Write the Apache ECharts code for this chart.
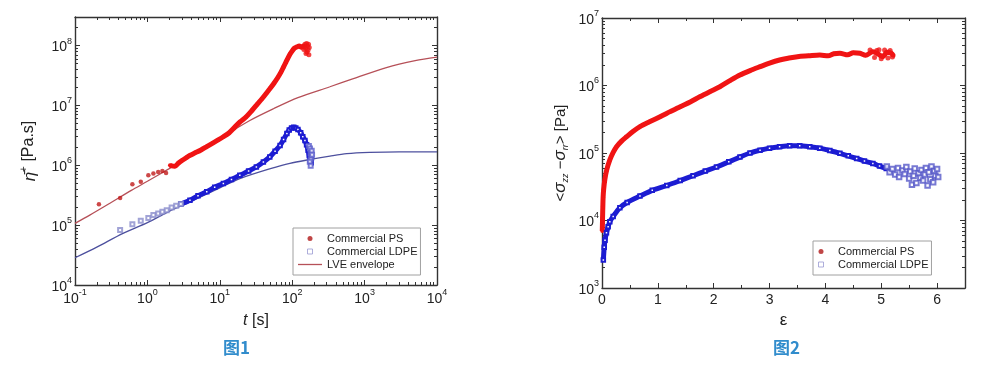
<!DOCTYPE html>
<html><head><meta charset="utf-8">
<script src="https://cdn.jsdelivr.net/npm/echarts@6/dist/echarts.min.js"></script>
<style>html,body{margin:0;padding:0;background:#fff}#c{width:1000px;height:372px}</style>
</head><body><div id="c"></div>
<script>
// ---------- Figure 1 data: t [s], eta [Pa.s] ----------
const ps1Sparse = [[0.214,2.24e5],[0.42,2.85e5],[0.62,4.8e5],[0.81,5.3e5],[1.03,6.8e5],[1.21,7.3e5],[1.41,7.7e5],[1.61,8.0e5],[1.81,7.4e5]];
const ps1Band = [[2.05,1.0e6],[2.4,9.6e5],[2.67,1.08e6],[3.0,1.2e6],[3.5,1.36e6],[3.9,1.47e6],[4.5,1.6e6],[5.5,1.8e6],[6.6,2.05e6],[8.0,2.35e6],[9.5,2.65e6],[11.2,3.0e6],[13.5,3.5e6],[16,4.3e6],[19,5.3e6],[23,6.4e6],[28,8.3e6],[33,1.05e7],[38,1.28e7],[44,1.6e7],[50,1.95e7],[56,2.35e7],[63,2.9e7],[70,3.6e7],[76,4.4e7],[82,5.3e7],[88,6.3e7],[94,7.3e7],[101,8.3e7],[108,9.1e7],[116,9.5e7],[125,9.8e7],[134,9.4e7],[142,1.0e8]];
const ps1Noise = [[145,8.6e7],[147,9.6e7],[150,1.05e8],[153,9.0e7],[155,7.4e7],[158,1.08e8],[160,7.8e7],[163,9.8e7],[166,8.4e7],[168,1.05e8],[170,7.0e7],[172,9.3e7]];
const ldpe1Sparse = [[0.42,8.3e4],[0.62,1.03e5],[0.81,1.18e5],[1.03,1.32e5],[1.21,1.47e5],[1.41,1.57e5],[1.61,1.67e5],[1.85,1.78e5],[2.16,1.97e5],[2.5,2.1e5],[2.9,2.25e5]];
const ldpe1Band = [[2.9,2.25e5],[3.87,2.6e5],[5,3.1e5],[6.6,3.6e5],[8.5,4.3e5],[11.2,4.95e5],[14.5,5.8e5],[18.9,6.8e5],[25,8.0e5],[32,9.4e5],[40,1.13e6],[49,1.38e6],[58,1.72e6],[68,2.15e6],[76,2.7e6],[84.5,3.4e6],[91,3.9e6],[98,4.2e6],[105,4.3e6],[112,4.2e6],[120,3.95e6],[131,3.5e6],[140,3.0e6],[150,2.6e6],[158,2.2e6],[166,1.78e6],[172,1.45e6],[178,1.21e6],[183,1.1e6]];
const ldpe1Noise = [[170,2.1e6],[176,1.9e6],[180,1.6e6],[184,1.35e6],[186,1.75e6],[181,1.25e6],[188,1.5e6],[175,1.15e6],[180,9.8e5]];
const lve1Red = [[0.1,1.07e5],[0.16,1.47e5],[0.3,2.3e5],[0.6,3.8e5],[1,5.4e5],[2,8.8e5],[4,1.45e6],[10,2.8e6],[26,5.6e6],[55,8.8e6],[120,1.35e7],[332,2.05e7],[700,2.8e7],[2000,4.3e7],[5000,5.6e7],[10000,6.4e7]];
const lve1Blue = [[0.1,2.85e4],[0.2,4.3e4],[0.46,7.3e4],[1,1.1e5],[2,1.7e5],[3.87,2.45e5],[10,4.2e5],[18.9,6.0e5],[50,8.8e5],[93,1.08e6],[178,1.25e6],[332,1.42e6],[566,1.56e6],[1170,1.64e6],[3000,1.68e6],[10000,1.68e6]];

// ---------- Figure 2 data: strain, stress difference [Pa] ----------
const ps2Band = [[0.005,7e3],[0.01,1.1e4],[0.015,1.6e4],[0.02,2.2e4],[0.03,2.9e4],[0.05,4.0e4],[0.084,5.6e4],[0.14,7.9e4],[0.2,1.02e5],[0.26,1.24e5],[0.35,1.5e5],[0.44,1.74e5],[0.56,2.1e5],[0.68,2.46e5],[0.85,2.9e5],[1.04,3.45e5],[1.22,4.1e5],[1.40,4.86e5],[1.58,5.7e5],[1.75,6.8e5],[1.93,8.1e5],[2.11,9.6e5],[2.29,1.18e6],[2.47,1.43e6],[2.65,1.66e6],[2.83,1.9e6],[3.0,2.15e6],[3.18,2.39e6],[3.35,2.55e6],[3.5,2.67e6],[3.7,2.75e6],[3.9,2.83e6],[4.05,2.75e6],[4.15,2.95e6],[4.26,3.0e6],[4.4,2.85e6],[4.5,3.05e6],[4.62,3.0e6],[4.72,2.8e6],[4.85,3.16e6],[4.95,2.9e6],[5.03,2.67e6],[5.1,3.1e6],[5.18,3.0e6],[5.22,2.75e6]];
const ps2Noise = [[4.8,3.35e6],[4.88,2.6e6],[4.92,3.3e6],[5.0,2.5e6],[5.06,3.35e6],[5.12,2.55e6],[5.16,3.3e6],[5.2,2.65e6],[4.96,3.4e6]];
const ldpe2Band = [[0.024,2.6e3],[0.04,4.0e3],[0.054,5.1e3],[0.08,6.6e3],[0.11,8.1e3],[0.14,9.6e3],[0.2,1.15e4],[0.32,1.55e4],[0.45,1.85e4],[0.68,2.3e4],[0.9,2.8e4],[1.16,3.3e4],[1.4,3.9e4],[1.63,4.6e4],[1.85,5.4e4],[2.05,6.2e4],[2.27,7.4e4],[2.47,8.7e4],[2.65,1.0e5],[2.83,1.1e5],[3.0,1.18e5],[3.18,1.24e5],[3.36,1.28e5],[3.54,1.28e5],[3.72,1.24e5],[3.9,1.18e5],[4.08,1.09e5],[4.26,9.9e4],[4.41,9.1e4],[4.56,8.3e4],[4.7,7.6e4],[4.85,7.0e4],[4.97,6.4e4],[5.09,5.9e4]];
const ldpe2Scatter = [[5.1,6.3e4],[5.15,5.2e4],[5.2,5.8e4],[5.25,4.8e4],[5.3,6.0e4],[5.32,4.4e4],[5.38,5.5e4],[5.42,4.9e4],[5.45,6.2e4],[5.5,4.2e4],[5.52,5.3e4],[5.55,3.4e4],[5.58,4.6e4],[5.6,5.9e4],[5.63,3.6e4],[5.67,5.0e4],[5.7,4.3e4],[5.72,5.6e4],[5.75,3.9e4],[5.78,4.8e4],[5.8,6.0e4],[5.83,3.3e4],[5.85,5.2e4],[5.88,4.1e4],[5.9,6.3e4],[5.93,3.7e4],[5.95,5.4e4],[5.97,4.6e4],[6.0,5.8e4],[6.02,4.4e4]];

// ---------- Tick labels ----------
const x1Major = [0.1,1,10,100,1000,10000];
const y1Major = [1e4,1e5,1e6,1e7,1e8];
const x2Major = [0,1,2,3,4,5,6];
const x2Minor = [0.5,1.5,2.5,3.5,4.5,5.5];
const y2Major = [1e3,1e4,1e5,1e6,1e7];
const captions = ['图1','图2'];

function logMinor(a,b,extra){const o=[];for(let k=a;k<b;k++)for(let m=2;m<=9;m++)o.push(+(m*Math.pow(10,k)).toPrecision(3));return o.concat(extra||[]);}
const x1Minor = logMinor(-1,4);
const y1Minor = logMinor(4,8,[2e8,3e8]);
const y2Minor = logMinor(3,7);

const FONT = '"Liberation Sans", Arial, sans-serif';
const AX = {color:'#333', width:1.4};
const powRich = {b:{fontSize:14,lineHeight:18,verticalAlign:'bottom',fontFamily:FONT,color:'#222'},
                 s:{fontSize:9,lineHeight:9,verticalAlign:'top',fontFamily:FONT,color:'#222'}};
const powFmt = v => '{b|10}{s|' + Math.round(Math.log10(v)) + '}';

function ax(o){
  const a = {
    type:o.type, gridIndex:o.grid, position:o.pos, min:o.min, max:o.max,
    axisLine:{show:o.major, onZero:false, lineStyle:AX},
    axisTick:{show:true, inside:true, length:o.major?5:3, customValues:o.ticks, lineStyle:{color:'#333',width:1}},
    axisLabel:{show:false},
    splitLine:{show:false}
  };
  if (o.type==='log') a.logBase = 10;
  if (o.labels) a.axisLabel = Object.assign({show:true, customValues:o.ticks}, o.labels);
  if (o.name) Object.assign(a, o.name);
  return a;
}

const xAxis = [
  ax({type:'log',grid:0,pos:'bottom',min:0.1,max:1e4,major:true,ticks:x1Major,
      labels:{margin:3,formatter:powFmt,rich:powRich},
      name:{name:'{i|t} [s]',nameLocation:'middle',nameGap:28,nameTextStyle:{fontSize:16,fontFamily:FONT,color:'#222',rich:{i:{fontStyle:'italic',fontSize:16,fontFamily:FONT,color:'#222'}}}}}),
  ax({type:'log',grid:0,pos:'bottom',min:0.1,max:1e4,major:false,ticks:x1Minor}),
  ax({type:'log',grid:0,pos:'top',min:0.1,max:1e4,major:true,ticks:x1Major}),
  ax({type:'log',grid:0,pos:'top',min:0.1,max:1e4,major:false,ticks:x1Minor}),
  ax({type:'value',grid:1,pos:'bottom',min:0,max:6.5,major:true,ticks:x2Major,
      labels:{margin:5,fontSize:14,fontFamily:FONT,color:'#222'},
      name:{name:'ε',nameLocation:'middle',nameGap:24,nameTextStyle:{fontSize:17,fontFamily:FONT,color:'#222'}}}),
  ax({type:'value',grid:1,pos:'bottom',min:0,max:6.5,major:false,ticks:x2Minor}),
  ax({type:'value',grid:1,pos:'top',min:0,max:6.5,major:true,ticks:x2Major}),
  ax({type:'value',grid:1,pos:'top',min:0,max:6.5,major:false,ticks:x2Minor})
];
const yAxis = [
  ax({type:'log',grid:0,pos:'left',min:1e4,max:3e8,major:true,ticks:y1Major,
      labels:{margin:3,formatter:powFmt,rich:powRich},
      name:{name:'{i|η̄}{s|+} [Pa.s]',nameLocation:'middle',nameGap:36,nameRotate:90,
            nameTextStyle:{fontSize:16,fontFamily:FONT,color:'#222',rich:{i:{fontStyle:'italic',fontSize:17,fontFamily:FONT,color:'#222',lineHeight:20,verticalAlign:'bottom'},s:{fontSize:10,lineHeight:10,verticalAlign:'top',fontFamily:FONT,color:'#222'}}}}}),
  ax({type:'log',grid:0,pos:'left',min:1e4,max:3e8,major:false,ticks:y1Minor}),
  ax({type:'log',grid:0,pos:'right',min:1e4,max:3e8,major:true,ticks:y1Major}),
  ax({type:'log',grid:0,pos:'right',min:1e4,max:3e8,major:false,ticks:y1Minor}),
  ax({type:'log',grid:1,pos:'left',min:1e3,max:1e7,major:true,ticks:y2Major,
      labels:{margin:3,formatter:powFmt,rich:powRich},
      name:{name:'<{i|σ}{sub|zz} −{i|σ}{sub|rr}> [Pa]',nameLocation:'middle',nameGap:32,nameRotate:90,
            nameTextStyle:{fontSize:15,fontFamily:FONT,color:'#222',rich:{i:{fontStyle:'italic',fontSize:17,fontFamily:FONT,color:'#222',lineHeight:18,verticalAlign:'top'},sub:{fontStyle:'italic',fontSize:9,lineHeight:9,verticalAlign:'bottom',fontFamily:FONT,color:'#222'}}}}}),
  ax({type:'log',grid:1,pos:'left',min:1e3,max:1e7,major:false,ticks:y2Minor}),
  ax({type:'log',grid:1,pos:'right',min:1e3,max:1e7,major:true,ticks:y2Major}),
  ax({type:'log',grid:1,pos:'right',min:1e3,max:1e7,major:false,ticks:y2Minor})
];

const RED='#f01414', DRED='#c01a1a', BLUE='#1c1cd2', LBLUE='#8a8ccc';
function line(name,data,xi,yi,color,w,sym,ss,z){return {type:'line',name,data,xAxisIndex:xi,yAxisIndex:yi,smooth:0.3,
  lineStyle:{color,width:w},itemStyle:{color},symbol:sym,symbolSize:ss,showSymbol:sym!=='none',z:z||2,silent:true};}
function sc(name,data,xi,yi,color,sym,ss){return {type:'scatter',name,data,xAxisIndex:xi,yAxisIndex:yi,
  itemStyle:{color},symbol:sym,symbolSize:ss,z:3,silent:true};}

const series = [
  line('LVE envelope',lve1Red,0,0,'#b65058',1.3,'none',0,1),
  line('LVE envelope',lve1Blue,0,0,'#4d509e',1.3,'none',0,1),
  sc('Commercial LDPE',ldpe1Sparse,0,0,LBLUE,'emptyRect',4),
  line('Commercial LDPE',ldpe1Band,0,0,BLUE,5,'emptyRect',3.5),
  sc('Commercial LDPE',ldpe1Noise,0,0,'#5a5ccc','emptyRect',4),
  sc('Commercial PS',ps1Sparse,0,0,DRED,'circle',4.5),
  line('Commercial PS',ps1Band,0,0,RED,5,'circle',4),
  sc('Commercial PS',ps1Noise,0,0,RED,'circle',5),
  line('Commercial PS',ps2Band,4,4,RED,5,'circle',4),
  sc('Commercial PS',ps2Noise,4,4,RED,'circle',5),
  line('Commercial LDPE',ldpe2Band,4,4,BLUE,5,'emptyRect',3.5),
  sc('Commercial LDPE',ldpe2Scatter,4,4,'#5557c8','emptyRect',4.5)
];

const legBase = {orient:'vertical',itemWidth:24,itemHeight:5,itemGap:0,padding:[4,3,4,5],borderColor:'#a0a0a0',borderWidth:1,
  symbolKeepAspect:true,backgroundColor:'#fff',selectedMode:false,textStyle:{fontSize:11,fontFamily:FONT,color:'#222',lineHeight:13}};
const legPS = {name:'Commercial PS',icon:'circle',itemStyle:{color:'#b01818'}};
const legLD = {name:'Commercial LDPE',icon:'path://M0,0L10,0L10,10L0,10Z',itemStyle:{color:'#fff',borderColor:'#9a9ad2',borderWidth:1}};
const legLVE = {name:'LVE envelope',icon:'path://M0,0L24,0L24,1.3L0,1.3Z',itemStyle:{color:'#b65058'}};

const option = {
  animation:false,
  grid:[{left:75,top:17,width:362,height:268},{left:602,top:18,width:363,height:270}],
  xAxis, yAxis, series,
  legend:[Object.assign({left:293,top:228,data:[legPS,legLD,legLVE]},legBase),
          Object.assign({left:813,top:241,data:[legPS,legLD]},legBase)],
  graphic:[
    {type:'text',left:223,top:339,style:{text:captions[0],font:'bold 17px "Noto Sans CJK SC"',fill:'#318ccc'}},
    {type:'text',left:773,top:339,style:{text:captions[1],font:'bold 17px "Noto Sans CJK SC"',fill:'#318ccc'}}
  ]
};
echarts.init(document.getElementById('c'),null,{renderer:'canvas'}).setOption(option);
</script></body></html>
